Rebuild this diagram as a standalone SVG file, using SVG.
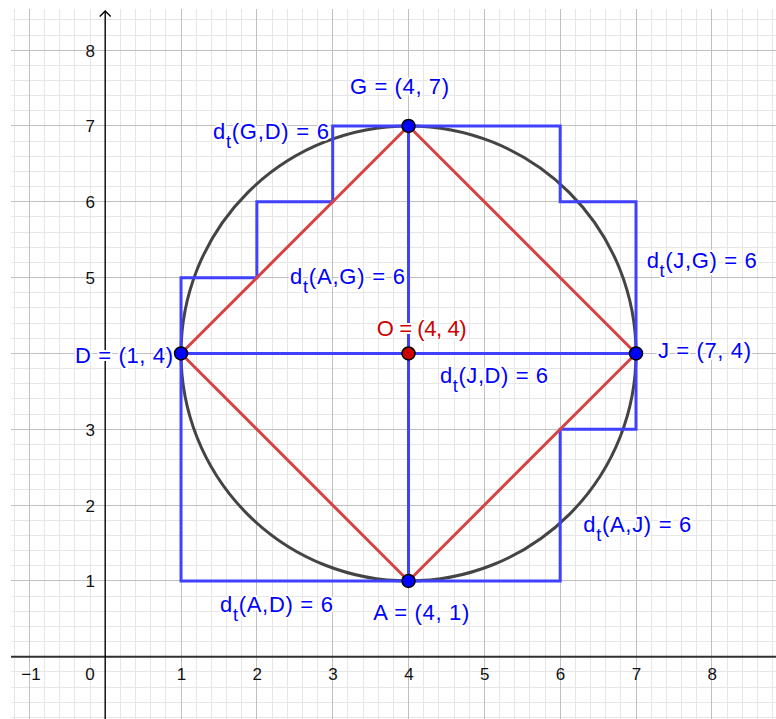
<svg xmlns="http://www.w3.org/2000/svg" width="776" height="719" viewBox="0 0 776 719">
<style>
.minor{fill:none;stroke:#e6e6e6;stroke-width:1;shape-rendering:crispEdges}
.major{fill:none;stroke:#c0c0c0;stroke-width:1;shape-rendering:crispEdges}
.tick{font-family:"Liberation Sans",Arial,sans-serif;font-size:17px;fill:#111}
.blue{fill:none;stroke:#4040ff;stroke-width:3;stroke-linejoin:miter}
.red{fill:none;stroke:#d64343;stroke-width:3;stroke-linejoin:round}
.pt{stroke:#000;stroke-width:1.5}
.lbl{font-family:"Liberation Sans",Arial,sans-serif;font-size:22px;fill:#0000ff;paint-order:stroke;stroke:#fff;stroke-width:4px;stroke-linejoin:round}
.sub{font-size:18px}
</style>
<rect x="0" y="0" width="776" height="719" fill="#fff"/>
<g id="grid">
<path class="minor" d="M14.2,9V719M44.54,9V719M59.7,9V719M74.87,9V719M90.03,9V719M120.37,9V719M135.53,9V719M150.7,9V719M165.86,9V719M196.2,9V719M211.36,9V719M226.53,9V719M241.69,9V719M272.03,9V719M287.19,9V719M302.36,9V719M317.52,9V719M347.86,9V719M363.02,9V719M378.19,9V719M393.35,9V719M423.69,9V719M438.85,9V719M454.02,9V719M469.18,9V719M499.52,9V719M514.68,9V719M529.85,9V719M545.01,9V719M575.35,9V719M590.51,9V719M605.68,9V719M620.84,9V719M651.18,9V719M666.34,9V719M681.51,9V719M696.67,9V719M727.01,9V719M742.17,9V719M757.34,9V719M772.5,9V719
M11,717.46H776M11,702.3H776M11,687.13H776M11,671.97H776M11,641.63H776M11,626.47H776M11,611.3H776M11,596.14H776M11,565.8H776M11,550.64H776M11,535.47H776M11,520.31H776M11,489.97H776M11,474.81H776M11,459.64H776M11,444.48H776M11,414.14H776M11,398.98H776M11,383.81H776M11,368.65H776M11,338.31H776M11,323.15H776M11,307.98H776M11,292.82H776M11,262.48H776M11,247.32H776M11,232.15H776M11,216.99H776M11,186.65H776M11,171.49H776M11,156.32H776M11,141.16H776M11,110.82H776M11,95.66H776M11,80.49H776M11,65.33H776M11,35H776M11,19.83H776"/>
<path class="major" d="M29.37,9V719M181.03,9V719M256.86,9V719M332.69,9V719M408.52,9V719M484.35,9V719M560.18,9V719M636.01,9V719M711.84,9V719
M11,580.97H776M11,505.14H776M11,429.31H776M11,353.48H776M11,277.65H776M11,201.82H776M11,125.99H776M11,50.16H776"/>
</g>
<g id="axes">
<line x1="11" y1="656.8" x2="776" y2="656.8" stroke="#303030" stroke-width="2"/>
<line x1="105.2" y1="11" x2="105.2" y2="719" stroke="#000" stroke-width="1.4"/>
<path d="M99.7,16.5L105.2,11L110.7,16.5" fill="none" stroke="#000" stroke-width="1.4"/>
<g class="tick" text-anchor="middle">
<text x="31" y="680">−1</text>
<text x="90" y="680">0</text>
<text x="181.5" y="680">1</text>
<text x="257.3" y="680">2</text>
<text x="333.1" y="680">3</text>
<text x="409" y="680">4</text>
<text x="484.8" y="680">5</text>
<text x="560.6" y="680">6</text>
<text x="636.5" y="680">7</text>
<text x="712.3" y="680">8</text>
</g>
<g class="tick" text-anchor="end">
<text x="95" y="587.3">1</text>
<text x="95" y="511.5">2</text>
<text x="95" y="435.7">3</text>
<text x="95" y="284">5</text>
<text x="95" y="208.2">6</text>
<text x="95" y="132.4">7</text>
<text x="95" y="56.6">8</text>
</g>
</g>
<circle id="circle" cx="408.52" cy="353.48" r="227.49" fill="none" stroke="#444" stroke-width="3"/>
<g id="connectors">
<path class="blue" d="M181.03,353.48V277.65H256.86V201.82H332.69V125.99H408.52"/>
<path class="blue" d="M408.52,125.99H560.18V201.82H636.01V353.48"/>
<path class="blue" d="M636.01,353.48V429.31H560.18V580.97H408.52"/>
<path class="blue" d="M408.52,580.97H181.03V353.48"/>
<path class="blue" d="M408.52,580.97V125.99"/>
<path class="blue" d="M181.03,353.48H636.01"/>
<path class="red" d="M181.03,353.48L408.52,125.99L636.01,353.48L408.52,580.97Z"/>
</g>
<g id="G"><circle class="pt" cx="408.52" cy="125.99" r="6.5" fill="#0000ff"/><text class="lbl" x="350" y="94" textLength="99" lengthAdjust="spacing">G = (4, 7)</text></g>
<g id="D"><circle class="pt" cx="181.03" cy="353.48" r="6.5" fill="#0000ff"/><text class="lbl" x="75" y="362.5" textLength="98" lengthAdjust="spacing">D = (1, 4)</text></g>
<g id="J"><circle class="pt" cx="636.01" cy="353.48" r="6.5" fill="#0000ff"/><text class="lbl" x="658" y="358" textLength="93" lengthAdjust="spacing">J = (7, 4)</text></g>
<g id="A"><circle class="pt" cx="408.52" cy="580.97" r="6.5" fill="#0000ff"/><text class="lbl" x="373.3" y="620" textLength="96" lengthAdjust="spacing">A = (4, 1)</text></g>
<g id="O"><circle class="pt" cx="408.52" cy="353.48" r="6.5" fill="#cc0000"/><text class="lbl" x="376.7" y="336" textLength="90" lengthAdjust="spacing" style="fill:#cc0000">O = (4, 4)</text></g>
<g id="dGD"><text class="lbl" x="213" y="139" textLength="116" lengthAdjust="spacing">d<tspan class="sub" dy="9">t</tspan><tspan dy="-9">(G,D) = 6</tspan></text></g>
<g id="dAG"><text class="lbl" x="290" y="284" textLength="115" lengthAdjust="spacing">d<tspan class="sub" dy="9">t</tspan><tspan dy="-9">(A,G) = 6</tspan></text></g>
<g id="dJD"><text class="lbl" x="440" y="382.7" textLength="108" lengthAdjust="spacing">d<tspan class="sub" dy="9">t</tspan><tspan dy="-9">(J,D) = 6</tspan></text></g>
<g id="dJG"><text class="lbl" x="646.7" y="268.3" textLength="110" lengthAdjust="spacing">d<tspan class="sub" dy="9">t</tspan><tspan dy="-9">(J,G) = 6</tspan></text></g>
<g id="dAJ"><text class="lbl" x="583.3" y="531.7" textLength="108" lengthAdjust="spacing">d<tspan class="sub" dy="9">t</tspan><tspan dy="-9">(A,J) = 6</tspan></text></g>
<g id="dAD"><text class="lbl" x="220" y="611.7" textLength="113" lengthAdjust="spacing">d<tspan class="sub" dy="9">t</tspan><tspan dy="-9">(A,D) = 6</tspan></text></g>
</svg>
